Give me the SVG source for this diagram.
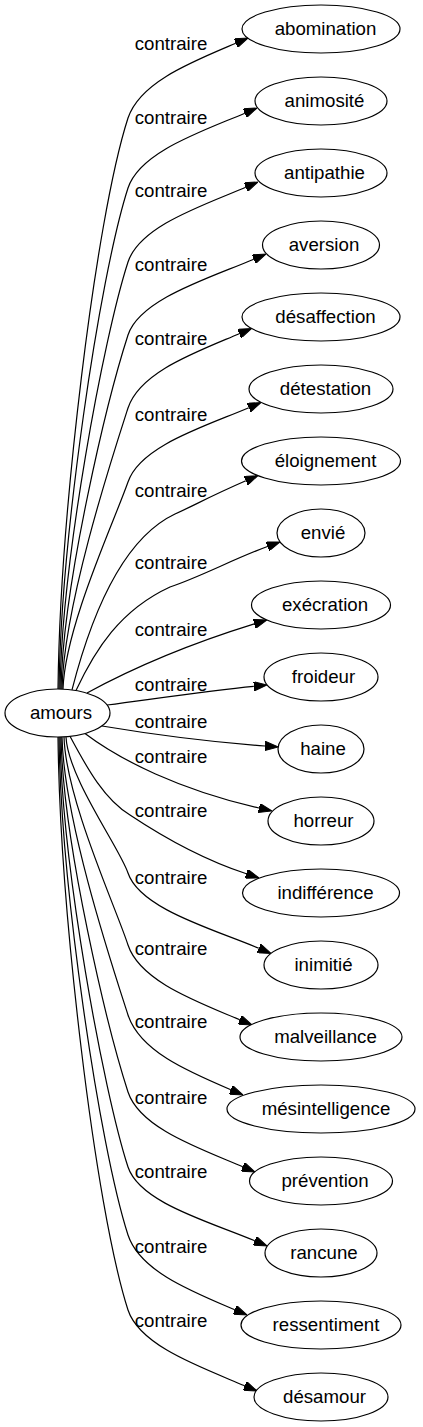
<svg xmlns="http://www.w3.org/2000/svg" width="423" height="1427" viewBox="0 0 423 1427">
<style>
.node ellipse{fill:#fff;stroke:#000;stroke-width:1.2}
.node text{font-family:"Liberation Sans",Arial,sans-serif;font-size:18.67px;text-anchor:middle;fill:#000}
.edges path{fill:none;stroke:#000;stroke-width:1.2;marker-end:url(#arr)}
.edges text{font-family:"Liberation Sans",Arial,sans-serif;font-size:18.67px;text-anchor:middle;fill:#000}
</style>
<defs>
<marker id="arr" viewBox="0 0 13.3 9.4" refX="0" refY="4.7" markerWidth="13.3" markerHeight="9.4" markerUnits="userSpaceOnUse" orient="auto">
<path d="M0,0 L13.3,4.7 L0,9.4 z" fill="#000" stroke="#000" stroke-width="1"/>
</marker>
</defs>
<rect width="423" height="1427" fill="#fff"/>
<g class="edges" id="edges">
<path d="M58,689 C60,517.7 94.9,220.8 128,118 C140,82 191.6,62 235.8,43.2"/>
<path d="M59,689 C61,538.7 99,278.2 128,188 C140,152 200.6,132 244.8,113.2"/>
<path d="M60,689 C62,560.9 103.2,338.9 128,262 C140,226 201.6,206 245.8,187.2"/>
<path d="M61,689 C63,582.8 107.5,398.7 128,335 C140,299 209.6,278 253.8,259.2"/>
<path d="M62,689 C64,604.7 111.7,458.6 128,408 C140,372 195.1,352.5 239.3,333.7"/>
<path d="M63,689 C65,626.9 114,522 128,482 C140,446 204.6,426.5 248.8,407.7"/>
<path d="M72,689.8 C90,620 120,540 175,514 C195,505 209.1,496.8 245.8,480.8"/>
<path d="M76,690.6 C95,650 120,610 170,587 C200,577 234.6,558.5 267.5,546.5"/>
<path d="M87,693 C120,675 170,650 254.3,623.9"/>
<path d="M107,705 C160,698 210,690.5 253.8,686.3"/>
<path d="M102,726 C150,734 210,742 265,746"/>
<path d="M85,733.5 C120,760 180,790 259,808"/>
<path d="M70,736.3 C88,770 105,800 130,815 C160,835 200,858.5 246.4,873.8"/>
<path d="M66,737 C68,777.8 120.1,848.5 128,873 C140,909 214.6,929.5 258.8,948.3"/>
<path d="M64,737 C66,799.4 115.9,907.6 128,945 C140,981 195.6,1001 239.8,1019.8"/>
<path d="M62,737 C64,820.4 111.9,965 128,1015 C140,1051 186.6,1071 230.8,1089.8"/>
<path d="M61,737 C63,843.5 107.4,1028.1 128,1092 C140,1128 198.6,1148 242.8,1166.8"/>
<path d="M60,737 C62,866 103,1089.6 128,1167 C140,1203 210.6,1222 254.8,1240.8"/>
<path d="M59,737 C61,886.4 99.1,1145.4 128,1235 C140,1271 190.6,1291 234.8,1309.8"/>
<path d="M58,737 C60,908.9 94.8,1206.9 128,1310 C140,1346 200.6,1367 244.8,1385.8"/>
<text x="171" y="50">contraire</text>
<text x="171" y="124">contraire</text>
<text x="171" y="197">contraire</text>
<text x="171" y="270.5">contraire</text>
<text x="171" y="345">contraire</text>
<text x="171" y="421">contraire</text>
<text x="171" y="496.7">contraire</text>
<text x="171" y="569">contraire</text>
<text x="171" y="636">contraire</text>
<text x="171" y="690.7">contraire</text>
<text x="171" y="727.7">contraire</text>
<text x="171" y="763">contraire</text>
<text x="171" y="817">contraire</text>
<text x="171" y="884">contraire</text>
<text x="171" y="955">contraire</text>
<text x="171" y="1028">contraire</text>
<text x="171" y="1104">contraire</text>
<text x="171" y="1178">contraire</text>
<text x="171" y="1253">contraire</text>
<text x="171" y="1327">contraire</text>
</g>
<g class="node" id="amours"><ellipse cx="57.5" cy="713" rx="52.5" ry="24"/><text x="61" y="719">amours</text></g>
<g class="node" id="abomination"><ellipse cx="321" cy="29" rx="79" ry="24"/><text x="325.5" y="35">abomination</text></g>
<g class="node" id="animosite"><ellipse cx="321" cy="101" rx="66" ry="24"/><text x="324.5" y="107">animosité</text></g>
<g class="node" id="antipathie"><ellipse cx="321" cy="173" rx="66" ry="24"/><text x="324.5" y="179">antipathie</text></g>
<g class="node" id="aversion"><ellipse cx="321" cy="245" rx="58.5" ry="24"/><text x="324" y="251">aversion</text></g>
<g class="node" id="desaffection"><ellipse cx="321" cy="317" rx="79" ry="24"/><text x="325.5" y="323">désaffection</text></g>
<g class="node" id="detestation"><ellipse cx="321" cy="389" rx="72" ry="24"/><text x="325.5" y="395">détestation</text></g>
<g class="node" id="eloignement"><ellipse cx="321" cy="461" rx="79.5" ry="24"/><text x="325.5" y="467">éloignement</text></g>
<g class="node" id="envie"><ellipse cx="321" cy="533" rx="44" ry="24"/><text x="323" y="539">envié</text></g>
<g class="node" id="execration"><ellipse cx="321" cy="605" rx="69.5" ry="24"/><text x="325" y="611">exécration</text></g>
<g class="node" id="froideur"><ellipse cx="321" cy="677" rx="57" ry="24"/><text x="323.5" y="683">froideur</text></g>
<g class="node" id="haine"><ellipse cx="321" cy="749" rx="43" ry="24"/><text x="323" y="755">haine</text></g>
<g class="node" id="horreur"><ellipse cx="321" cy="821" rx="53" ry="24"/><text x="323.5" y="827">horreur</text></g>
<g class="node" id="indifference"><ellipse cx="321" cy="893" rx="78.5" ry="24"/><text x="325.5" y="899">indifférence</text></g>
<g class="node" id="inimitie"><ellipse cx="321" cy="965" rx="57" ry="24"/><text x="323.5" y="971">inimitié</text></g>
<g class="node" id="malveillance"><ellipse cx="321" cy="1037" rx="81" ry="24"/><text x="325.5" y="1043">malveillance</text></g>
<g class="node" id="mesintelligence"><ellipse cx="321" cy="1109" rx="94" ry="24"/><text x="326" y="1115">mésintelligence</text></g>
<g class="node" id="prevention"><ellipse cx="321" cy="1181" rx="71.5" ry="24"/><text x="325" y="1187">prévention</text></g>
<g class="node" id="rancune"><ellipse cx="321" cy="1253" rx="56" ry="24"/><text x="324" y="1259">rancune</text></g>
<g class="node" id="ressentiment"><ellipse cx="321" cy="1325" rx="80" ry="24"/><text x="326" y="1331">ressentiment</text></g>
<g class="node" id="desamour"><ellipse cx="321" cy="1397" rx="67" ry="24"/><text x="324.5" y="1403">désamour</text></g>
</svg>
